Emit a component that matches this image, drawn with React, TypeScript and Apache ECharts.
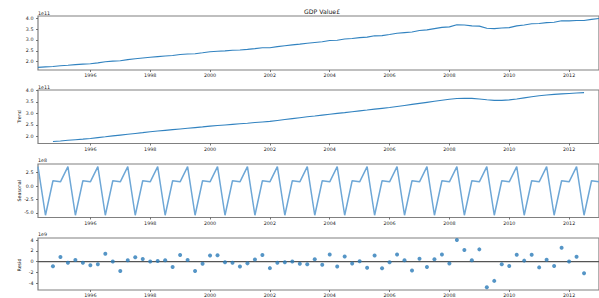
import React, { useEffect, useRef } from "react";
import * as echarts from "echarts";

// Quarterly series, first quarter at 1994.25 (decimal year), step 0.25
const START_YEAR = 1994.25;
const STEP = 0.25;
const X_MIN = 1994.25;
const X_MAX = 2013.0;

// Observed GDP (units of 1e11)
const observed = [
  1.73, 1.755, 1.77, 1.81, 1.83, 1.86, 1.88, 1.9, 1.94, 1.995,
  2.02, 2.04, 2.09, 2.13, 2.165, 2.2, 2.23, 2.26, 2.28, 2.33,
  2.35, 2.36, 2.405, 2.455, 2.48, 2.495, 2.52, 2.535, 2.565, 2.6,
  2.64, 2.64, 2.69, 2.73, 2.77, 2.805, 2.845, 2.885, 2.915, 2.975,
  2.985, 3.04, 3.065, 3.105, 3.13, 3.19, 3.2, 3.25, 3.31, 3.34,
  3.37, 3.435, 3.465, 3.525, 3.58, 3.605, 3.7, 3.69, 3.65, 3.64,
  3.54, 3.525, 3.555, 3.57, 3.65, 3.69, 3.75, 3.76, 3.8, 3.815,
  3.89, 3.88, 3.9, 3.9, 3.95, 3.99,
];

// Trend (units of 1e11), starts at the 3rd quarter of the series
const trend = [
  1.78, 1.8, 1.83, 1.855, 1.88, 1.91, 1.945, 1.98, 2.02, 2.055,
  2.09, 2.125, 2.16, 2.2, 2.23, 2.26, 2.29, 2.32, 2.35, 2.38,
  2.41, 2.445, 2.47, 2.495, 2.52, 2.545, 2.57, 2.6, 2.625, 2.65,
  2.69, 2.73, 2.77, 2.81, 2.85, 2.88, 2.92, 2.96, 2.995, 3.03,
  3.07, 3.105, 3.14, 3.18, 3.215, 3.25, 3.295, 3.34, 3.385, 3.43,
  3.475, 3.52, 3.565, 3.61, 3.64, 3.655, 3.645, 3.62, 3.585, 3.56,
  3.56, 3.58, 3.62, 3.67, 3.72, 3.76, 3.79, 3.82, 3.84, 3.86,
  3.88, 3.895,
];
const TREND_OFFSET = 2;

// Seasonal component (units of 1e8)
const seasonal = [
  3.65, -5.45, 1.0, 0.8, 3.65, -5.45, 1.0, 0.8, 3.65, -5.45,
  1.0, 0.8, 3.65, -5.45, 1.0, 0.8, 3.65, -5.45, 1.0, 0.8,
  3.65, -5.45, 1.0, 0.8, 3.65, -5.45, 1.0, 0.8, 3.65, -5.45,
  1.0, 0.8, 3.65, -5.45, 1.0, 0.8, 3.65, -5.45, 1.0, 0.8,
  3.65, -5.45, 1.0, 0.8, 3.65, -5.45, 1.0, 0.8, 3.65, -5.45,
  1.0, 0.8, 3.65, -5.45, 1.0, 0.8, 3.65, -5.45, 1.0, 0.8,
  3.65, -5.45, 1.0, 0.8, 3.65, -5.45, 1.0, 0.8, 3.65, -5.45,
  1.0, 0.8, 3.65, -5.45, 1.0, 0.8,
];

// Residual (units of 1e9), starts at the 3rd quarter
const resid = [
  -0.86, 0.86, -0.2, 0.3, -0.2, -0.68, -0.5, 1.45, 0.0, -1.75,
  0.24, 0.8, 0.48, 0.0, 0.1, 0.24, -1.0, 1.22, 0.3, -1.75,
  -0.4, 1.13, 1.19, -0.12, -0.2, -0.92, -0.33, 0.38, 1.22, -1.22,
  -0.2, -0.12, 0.0, -0.42, -0.48, 0.45, -0.6, 1.32, -0.9, 0.96,
  -0.36, 0.06, -1.14, 1.14, -1.26, -0.12, 1.32, 0.24, -1.68, 0.54,
  -1.02, 0.42, 1.32, -0.36, 4.02, 2.16, 0.24, 2.28, -4.8, -3.6,
  -0.48, -0.84, 1.26, 0.18, 1.26, -1.08, 0.36, -0.84, 2.58, 0.0,
  0.9, -2.16,
];
const RESID_OFFSET = 2;

// Tick labels
const xTicks = [1996, 1998, 2000, 2002, 2004, 2006, 2008, 2010, 2012];
const gdpTicks = [2.0, 2.5, 3.0, 3.5, 4.0];
const seasonalTicks = [-5.0, -2.5, 0.0, 2.5];
const residTicks = [-4, -2, 0, 2, 4];

const TITLE = "GDP Value£";
const FONT = "DejaVu Sans";
const BLUE = "#3283c0";
const LIGHT_BLUE = "#6ea7d6";
const TEXT = "#222";
const SPINE = "#808080";

const xOf = (i: number) => START_YEAR + i * STEP;

export default function App() {
  const ref = useRef<HTMLDivElement>(null);
  useEffect(() => {
    if (!ref.current) return;
    const chart = echarts.init(ref.current, undefined, { renderer: "svg" });

    const grids = [
      { left: 38, top: 16, width: 569, height: 54 },
      { left: 38, top: 90, width: 569, height: 53.5 },
      { left: 38, top: 164, width: 569, height: 53.5 },
      { left: 38, top: 238, width: 569, height: 54 },
    ].map((g) => ({ ...g, show: true, borderColor: SPINE, borderWidth: 1.2, backgroundColor: "transparent" }));

    const makeX = (gi: number) => ({
      type: "value",
      gridIndex: gi,
      min: X_MIN,
      max: X_MAX,
      position: "bottom",
      axisLine: { show: false, onZero: false },
      splitLine: { show: false },
      axisTick: { show: true, length: 2, lineStyle: { color: "#555", width: 0.8 }, customValues: xTicks },
      axisLabel: {
        show: true,
        customValues: xTicks,
        margin: 3,
        fontSize: 4.8,
        fontFamily: FONT,
        color: TEXT,
        formatter: (v: number) => String(Math.round(v)),
      },
    });

    const makeY = (gi: number, min: number, max: number, ticks: number[], digits: number) => ({
      type: "value",
      gridIndex: gi,
      min,
      max,
      position: "left",
      axisLine: { show: false, onZero: false },
      splitLine: { show: false },
      axisTick: { show: true, length: 2, lineStyle: { color: "#555", width: 0.8 }, customValues: ticks },
      axisLabel: {
        show: true,
        customValues: ticks,
        margin: 4.5,
        fontSize: 4.8,
        fontFamily: FONT,
        color: TEXT,
        formatter: (v: number) => v.toFixed(digits),
      },
    });

    const lineStyle = { color: BLUE, width: 1.1 };

    const textEl = (text: string, x: number, y: number, size: number, align = "left", rot = 0) => ({
      type: "text",
      x,
      y,
      rotation: rot,
      style: {
        text,
        fontSize: size,
        fontFamily: FONT,
        fill: TEXT,
        textAlign: align,
        textVerticalAlign: "middle",
      },
      silent: true,
    });

    chart.setOption({
      animation: false,
      backgroundColor: "#ffffff",
      grid: grids,
      xAxis: [makeX(0), makeX(1), makeX(2), makeX(3)],
      yAxis: [
        makeY(0, 1.61, 4.107, gdpTicks, 1),
        makeY(1, 1.69, 4.01, gdpTicks, 1),
        makeY(2, -5.87, 4.13, seasonalTicks, 1),
        makeY(3, -5.3, 4.4, residTicks, 0),
      ],
      series: [
        {
          type: "line",
          xAxisIndex: 0,
          yAxisIndex: 0,
          data: observed.map((v, i) => [xOf(i), v]),
          showSymbol: false,
          lineStyle,
          itemStyle: { color: BLUE },
        },
        {
          type: "line",
          xAxisIndex: 1,
          yAxisIndex: 1,
          data: trend.map((v, i) => [xOf(i + TREND_OFFSET), v]),
          showSymbol: false,
          lineStyle,
          itemStyle: { color: BLUE },
        },
        {
          type: "line",
          xAxisIndex: 2,
          yAxisIndex: 2,
          data: seasonal.map((v, i) => [xOf(i), v]),
          showSymbol: false,
          lineStyle: { color: LIGHT_BLUE, width: 1.5 },
          itemStyle: { color: LIGHT_BLUE },
        },
        {
          type: "line",
          xAxisIndex: 3,
          yAxisIndex: 3,
          data: [
            [X_MIN, 0],
            [X_MAX, 0],
          ],
          showSymbol: false,
          z: 1,
          lineStyle: { color: "#555", width: 1.3 },
          itemStyle: { color: "#555" },
        },
        {
          type: "scatter",
          xAxisIndex: 3,
          yAxisIndex: 3,
          data: resid.map((v, i) => [xOf(i + RESID_OFFSET), v]),
          symbolSize: 4,
          z: 3,
          itemStyle: { color: "#2a7ab8" },
        },
      ],
      graphic: [
        textEl(TITLE, 322, 11, 6.2, "center"),
        textEl("1e11", 38, 13, 4.8),
        textEl("1e11", 38, 87.5, 4.8),
        textEl("1e8", 38, 160.7, 4.8),
        textEl("1e9", 38, 234.2, 4.8),
        textEl("Trend", 19.3, 116.8, 4.8, "center", Math.PI / 2),
        textEl("Seasonal", 19.3, 190.7, 4.8, "center", Math.PI / 2),
        textEl("Resid", 19.3, 265, 4.8, "center", Math.PI / 2),
      ],
    });

    return () => chart.dispose();
  }, []);

  return (
    <div
      ref={ref}
      style={{ position: "fixed", left: 0, top: 0, width: 599, height: 298, overflow: "hidden", background: "#fff" }}
    />
  );
}
